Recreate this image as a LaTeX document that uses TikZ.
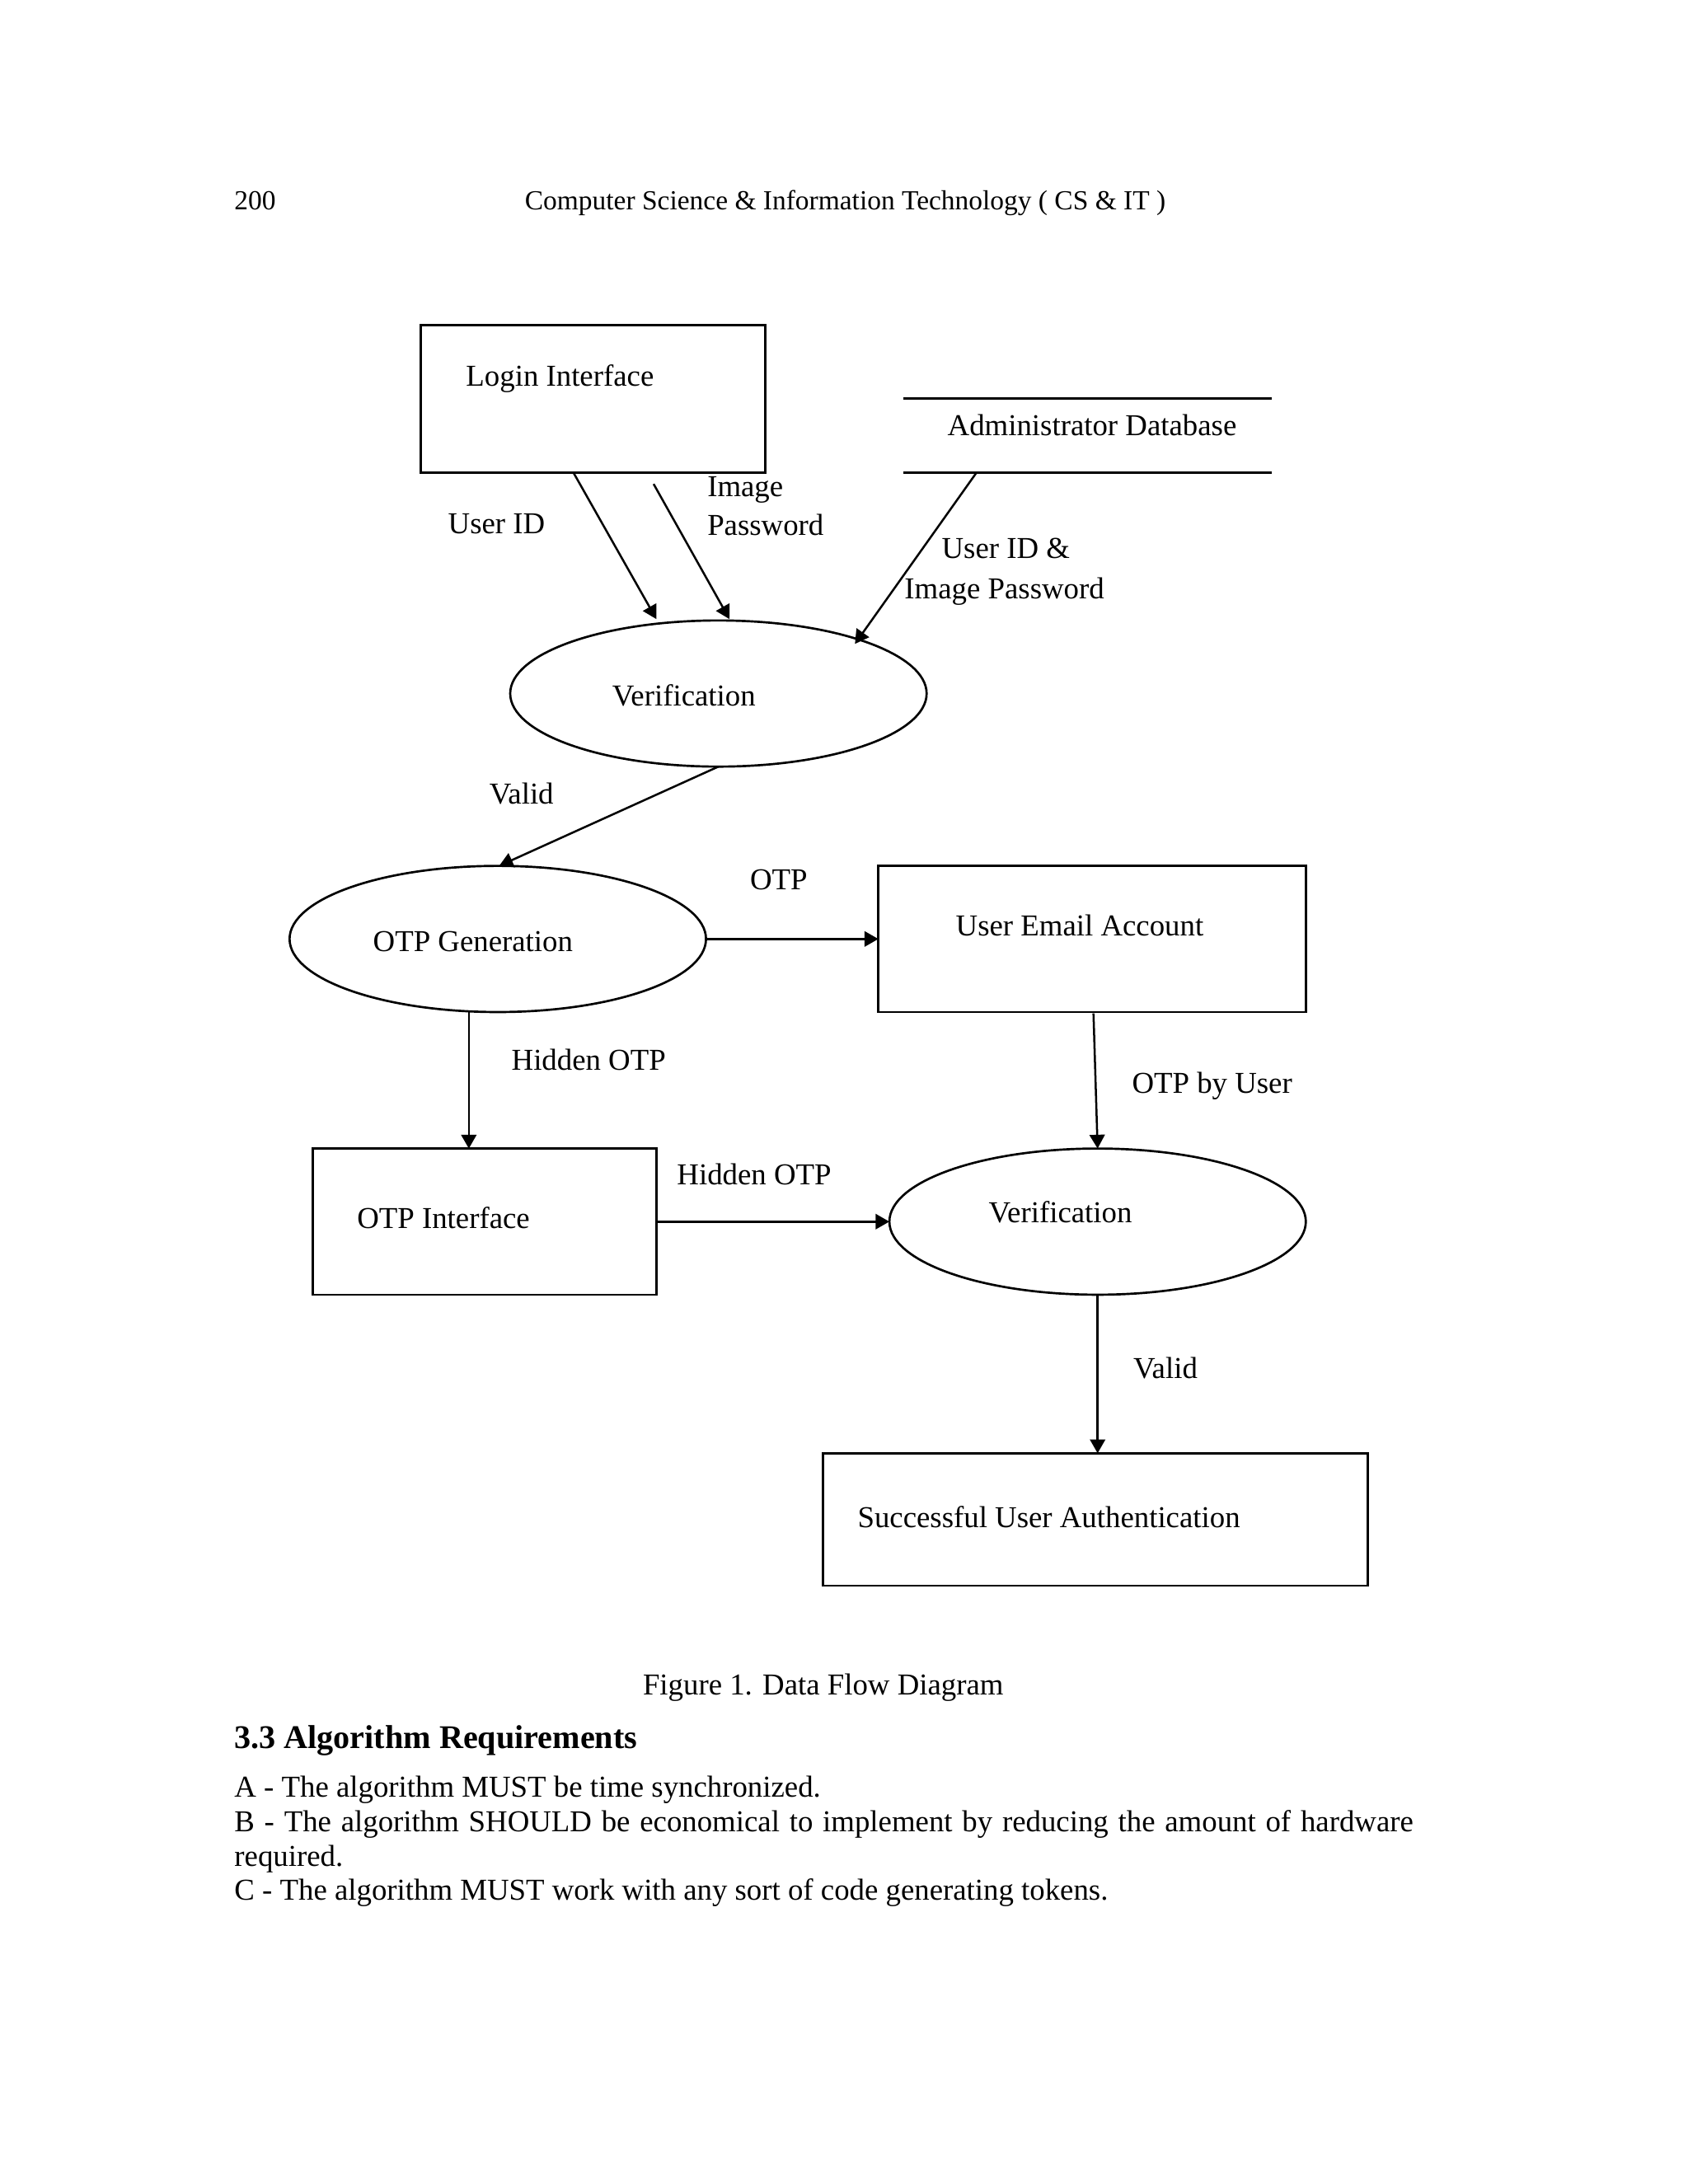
\documentclass[tikz,border=0pt]{standalone}
\usepackage{fontspec}
\setmainfont{Liberation Serif}
\usetikzlibrary{arrows.meta,shapes.geometric,calc}
\begin{document}
\begin{tikzpicture}[x=0.5pt,y=-0.5pt,
  every node/.style={inner sep=0pt,outer sep=0pt},
  lbl/.style={font=\fontsize{11}{13}\selectfont, anchor=base west},
  boxnode/.style={draw, line width=0.8pt},
  proc/.style={draw, ellipse, line width=0.8pt, minimum width=151pt, minimum height=53pt},
  flow/.style={line width=0.75pt, -{Triangle[length=5pt,width=5.5pt]}}]
\useasboundingbox[fill=white] (0,0) rectangle (1224,1584);
% header
\node[font=\fontsize{10}{12}\selectfont, anchor=base west] (pg) at (170,152) {200};
\node[font=\fontsize{10}{12}\selectfont, anchor=base] (hdr) at (613,152) {Computer Science \& Information Technology ( CS \& IT )};
% boxes
\node[boxnode, minimum width=125pt, minimum height=53.5pt] (login) at (430,289.5) {};
\node[lbl] (logint) at (338,280) {Login Interface};
\node[minimum width=133.5pt, minimum height=27pt] (db) at (788.5,316) {};
\draw[line width=0.8pt] (db.north west) -- (db.north east);
\draw[line width=0.8pt] (db.south west) -- (db.south east);
\node[lbl, anchor=base] (dbt) at (792,316) {Administrator Database};
\node[proc] (ver1) at (521,503) {};
\node[lbl, anchor=base] (ver1t) at (496,512) {Verification};
\node[proc] (otpgen) at (361,681) {};
\node[lbl, anchor=base] (otpgent) at (343,690) {OTP Generation};
\node[boxnode, minimum width=155pt, minimum height=53pt] (email) at (792,681) {};
\node[lbl, anchor=base] (emailt) at (783,679) {User Email Account};
\node[boxnode, minimum width=124.5pt, minimum height=53pt] (otpint) at (351.5,886) {};
\node[lbl] (otpintt) at (259,891) {OTP Interface};
\node[proc] (ver2) at (796,886) {};
\node[lbl, anchor=base] (ver2t) at (769,887) {Verification};
\node[boxnode, minimum width=197.5pt, minimum height=48pt] (succ) at (794.5,1102) {};
\node[lbl] (succt) at (622,1108) {Successful User Authentication};
% connectors
\coordinate (a1s) at ($(login.south west)+(111,0)$);
\coordinate (a1e) at (476,449);
\coordinate (a2s) at (474,351);
\coordinate (a2e) at (529,449);
\coordinate (a3s) at ($(db.south west)+(53,0)$);
\coordinate (a3e) at (620,467);
\draw[flow] (a1s) -- (a1e);
\draw[flow] (a2s) -- (a2e);
\draw[flow] (a3s) -- (a3e);
\coordinate (a4e) at (362,628);
\draw[flow] (ver1.south) -- (a4e);
\draw[flow] (otpgen.east) -- (email.west |- otpgen.east);
\coordinate (a6s) at (340,734);
\draw[flow] (a6s) -- (otpint.north -| a6s);
\draw[flow] (otpint.east) -- (ver2.west);
\coordinate (a8s) at (793,735);
\draw[flow] (a8s) -- (ver2.north);
\draw[flow] (ver2.south) -- (succ.north -| ver2.south);
% connector labels
\node[lbl] (l1) at (325,387) {User ID};
\node[lbl] (l2) at (513,360) {Image};
\node[lbl] (l3) at (513,388) {Password};
\node[lbl] (l4) at (683,405) {User ID \&};
\node[lbl] (l5) at (656,434) {Image Password};
\node[lbl] (l6) at (355,583) {Valid};
\node[lbl] (l7) at (544,645) {OTP};
\node[lbl] (l8) at (371,776) {Hidden OTP};
\node[lbl] (l9) at (491,859) {Hidden OTP};
\node[lbl] (l10) at (821,793) {OTP by User};
\node[lbl] (l11) at (822,1000) {Valid};
% caption and text
\node[lbl, anchor=base] (cap) at (597,1229) {Figure 1. Data Flow Diagram};
\node[font=\fontsize{12}{14}\selectfont\bfseries, anchor=base west] (sec) at (170,1268) {3.3 Algorithm Requirements};
\node[font=\fontsize{11}{12.5}\selectfont, anchor=north west, text width=427.5pt, align=justify] (body) at (170,1288) {\setlength{\parindent}{0pt}A - The algorithm MUST be time synchronized.\par B - The algorithm SHOULD be economical to implement by reducing the amount of hardware required.\par C - The algorithm MUST work with any sort of code generating tokens.};
\end{tikzpicture}
\end{document}
